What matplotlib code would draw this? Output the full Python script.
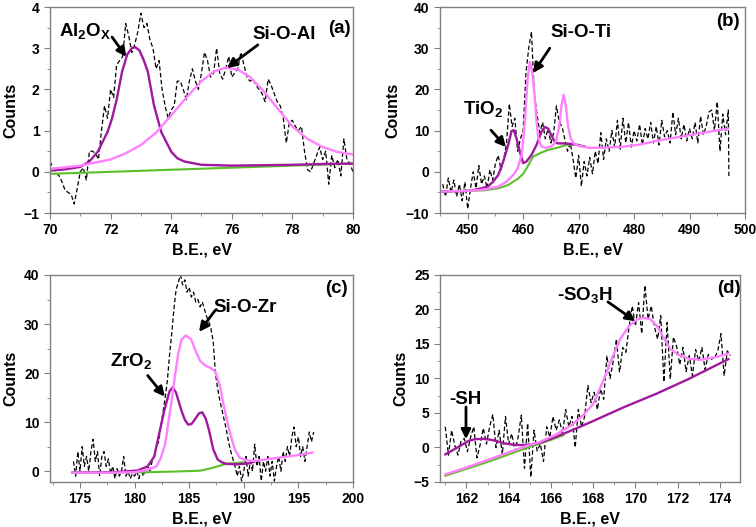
"""XPS fits of the four hybrid silicas: Al 2p, Ti 2p, Zr 3d and S 2p panels.

Raw spectrum drawn dashed, fitted components and baseline drawn on top.
"""

import numpy as np
import matplotlib
matplotlib.use("Agg")
import matplotlib.pyplot as plt
from matplotlib.ticker import MultipleLocator

plt.rcParams["font.family"] = ["Liberation Sans", "DejaVu Sans"]
plt.rcParams["font.weight"] = "bold"
plt.rcParams["mathtext.fontset"] = "custom"
plt.rcParams["mathtext.bf"] = "Liberation Sans:bold"
plt.rcParams["mathtext.rm"] = "Liberation Sans:bold"

PURPLE = "#a0189e"
PINK = "#ff80ff"
GREEN = "#5cbf2a"
FRAME = "#808080"

# ---- (a) Al 2p --------------------------------------------------------------
raw_a_x0, raw_a_step = 70.0, 0.1
raw_a = [0.25, 0.1, 0.0, -0.1, -0.25, -0.45, -0.5, -0.55, -0.78, -0.4,
         0.0, 0.1, -0.2, 0.5, 0.5, 0.45, 0.3, 1.0, 1.6, 1.3,
         2.0, 1.8, 2.6, 2.7, 2.8, 3.6, 3.3, 2.9, 3.1, 3.4,
         3.85, 3.5, 3.6, 3.2, 3.0, 2.5, 2.7, 2.0, 1.6, 1.3,
         1.5, 1.6, 2.2, 2.2, 2.0, 1.75, 2.2, 2.5, 2.2, 2.0,
         2.4, 2.9, 2.7, 2.3, 2.4, 3.0, 2.4, 2.25, 2.5, 2.8,
         2.3, 2.4, 2.5, 2.9, 2.6, 2.3, 2.2, 2.25, 2.1, 2.0,
         1.9, 1.7, 2.25, 2.1, 1.9, 1.7, 1.6, 1.3, 0.7, 1.2,
         1.25, 1.1, 1.0, 1.1, 0.5, 0.05, 0.0, 0.2, 0.4, 0.6,
         0.3, 0.5, -0.3, 0.4, 0.1, 0.3, -0.1, 0.8, 0.3, 0.2,
         0.0]
al2ox_x = [70.0, 70.5, 71.0, 71.3, 71.58, 71.9, 72.05, 72.2, 72.38, 72.55,
           72.7, 72.8, 72.95, 73.1, 73.23, 73.43, 73.67, 74.0, 74.2, 74.44,
           75.0, 76.0, 77.0, 78.0, 79.0, 80.0]
al2ox_y = [0.03, 0.06, 0.12, 0.25, 0.49, 0.97, 1.3, 1.75, 2.43, 2.85,
           3.0, 3.03, 2.95, 2.7, 2.43, 1.62, 0.97, 0.49, 0.33, 0.25,
           0.17, 0.15, 0.16, 0.17, 0.19, 0.2]
sioal_x = [70, 71, 72, 72.5, 73, 73.5, 74, 74.5, 75, 75.4,
           75.8, 76.2, 76.6, 77, 77.5, 78, 78.5, 79, 79.5, 80]
sioal_y = [0.07, 0.15, 0.3, 0.45, 0.65, 0.95, 1.37, 1.8, 2.2, 2.43,
           2.53, 2.48, 2.3, 2.0, 1.55, 1.1, 0.8, 0.6, 0.48, 0.42]
base_a_x = [70, 80]
base_a_y = [-0.05, 0.2]

# ---- (b) Ti 2p --------------------------------------------------------------
raw_b_x0, raw_b_step = 445.5, 0.5
raw_b = [-3, -6, -1.5, -5, -2, -6, -3, -7, -2.5, -9,
         -4, 0, -4, 1.5, -3, -1, -4, 0.5, -2, 2,
         4, 0.5, 3, 7, 16.5, 11, 13, 5, 8, 10,
         24, 30, 34, 19, 14, 9.5, 12, 8, 10.5, 7,
         9.5, 16, 12, 11, 8, 5, 7, 3, -1.5, 4,
         -3.5, 2.5, -1, 3.5, -0.5, 5, 2, 9.5, 3, 8,
         5, 10, 6, 12.5, 5.5, 13, 7, 12, 6, 10,
         7.5, 11.5, 6.5, 10.5, 8, 12, 7, 11, 6.5, 12.5,
         8.5, 10, 7, 14.5, 9, 13, 8, 11.5, 7.5, 10.5,
         8, 12, 7, 13.5, 9, 11, 14.5, 15, 10, 17,
         5, 14, 9, 15, -1]
sioti_x = [445, 450.6, 453, 455.5, 457, 458.2, 459.0, 459.7, 460.0, 460.4,
           460.8, 461.2, 461.6, 462.0, 462.4, 462.7, 463.2, 464.0, 464.8, 465.5,
           466.0, 466.5, 466.9, 467.3, 467.7, 468.1, 468.6, 469.2, 470.0, 472,
           475, 478, 481, 484, 487, 490, 493, 497]
sioti_y = [-4.8, -4.6, -4.3, -3.6, -2.4, -0.8, 0.8, 4.0, 7.5, 14.0,
           22.5, 26.7, 24.5, 19.5, 12.5, 8.5, 6.3, 5.8, 6.0, 6.6,
           7.8, 11.0, 16.0, 18.7, 16.0, 11.0, 8.0, 6.8, 6.3, 5.8,
           5.9, 6.1, 6.6, 7.5, 8.2, 8.9, 9.6, 10.5]
tio2_x = [445, 450.6, 453.6, 454.5, 455.5, 456.4, 457.3, 457.9, 458.3, 458.8,
          459.4, 460.0, 460.6, 461.5, 462.4, 463.3, 463.9, 464.5, 465.1, 465.6,
          466.2, 467.2, 468.4, 469.9, 471.1]
tio2_y = [-4.8, -4.6, -3.6, -2.5, -0.8, 2.5, 6.5, 9.9, 10.1, 8.1,
          4.9, 2.1, 2.5, 4.1, 6.5, 9.7, 10.9, 10.5, 8.8, 7.5,
          6.9, 6.9, 6.8, 6.5, 6.1]
base_b_x = [445, 453, 455.5, 457.3, 459.1, 460.0, 460.6, 461.2, 461.8, 462.7,
            463.5, 464.5, 466.3, 467.8, 469.3, 471.1]
base_b_y = [-4.8, -4.5, -4.0, -3.2, -1.6, -0.5, 0.8, 2.3, 3.7, 4.3,
            4.8, 5.3, 5.9, 6.5, 6.7, 6.1]

# ---- (c) Zr 3d --------------------------------------------------------------
raw_c_x0, raw_c_step = 174.4, 0.2
raw_c = [2, -1, 4, 0, 5, 1, 3, 0, 4, 6.5,
         2, 4, -1, 3, 4, 1, 2.5, -0.5, 1, -1.5,
         0.5, -1, 0, 3, -1, 0, -1.5, -0.5, -1, 0,
         -1.5, 0.5, -1, 0.5, 1, 0, 2, 3, 5, 6,
         9, 12, 15, 18.5, 23.7, 28, 33, 37, 38.5, 40,
         38, 39, 36.5, 37.5, 35.5, 36.5, 34.5, 35, 33.5, 34.5,
         33, 31.5, 30.5, 29, 26.4, 20, 16.9, 14.5, 12.5, 10.5,
         8.5, 6, 4.1, 2.5, 1, -1, 1, -2, 0, 3,
         -1, 2, 0, 5.5, 1, 3, -2, 2, 0, 3,
         -1, 2, -2, 1, 3, 0, 4, 2, 5, 3,
         7, 9, 5, 7, 3, 5, 2, 5, 8, 6,
         8]
siozr_x = [174.3, 178, 180, 181.0, 181.6, 182.0, 182.4, 182.8, 183.1, 183.4,
           183.7, 184.0, 184.3, 184.7, 185.2, 185.6, 186.0, 186.5, 187.0, 187.4,
           187.8, 188.2, 188.5, 188.8, 189.2, 189.6, 190.2, 191, 192, 193,
           194, 195, 196.3]
siozr_y = [-0.3, -0.3, -0.2, 0.2, 0.6, 1.0, 2.7, 5.5, 10.0, 14.5,
           19.5, 24.0, 26.8, 27.7, 26.8, 24.5, 22.5, 21.5, 21.0, 20.3,
           17.5, 13.0, 10.0, 7.3, 4.3, 2.8, 2.2, 2.1, 2.4, 2.7,
           3.0, 3.3, 3.8]
zro2_x = [174.3, 178.2, 180.3, 181.2, 181.8, 182.1, 182.7, 183.2, 183.5, 183.8,
          184.0, 184.3, 184.6, 184.9, 185.2, 185.6, 185.9, 186.2, 186.5, 186.8,
          187.2, 187.6, 188.0, 188.4, 189.3, 190.5, 191.0]
zro2_y = [-0.3, -0.2, 0.15, 1.0, 3.0, 6.1, 12.2, 16.3, 17.1, 16.0,
          14.5, 12.3, 10.5, 9.5, 9.6, 10.8, 11.8, 12.0, 10.8, 8.5,
          4.5, 2.4, 1.8, 1.5, 1.4, 1.6, 2.0]
base_c_x = [174.3, 181.2, 184, 186, 187, 188.4, 190]
base_c_y = [-0.3, -0.2, -0.05, 0.1, 0.6, 1.5, 1.8]

# ---- (d) S 2p ---------------------------------------------------------------
raw_d_x0, raw_d_step = 161.0, 0.15
raw_d = [3.0, -1.1, 2.5, 0.3, -1.1, 1.0, 1.3, -0.6, 1.5, 3.0,
         -1.5, 0.4, 2.8, 0.5, 3.0, 4.8, 0.0, 2.5, -1.0, 4.5,
         0.5, 2.0, -0.5, 1.5, 4.7, -3.0, 3.5, -4.3, 2.5, -0.5,
         0.5, -2.0, 3.0, 1.5, 4.5, 2.5, 4.0, 2.0, 5.5, 3.0,
         4.5, 0.0, 5.5, 3.0, 4.5, 9.0, 6.5, 8.0, 5.5, 8.5,
         7.0, 13.3, 10.0, 12.5, 15.7, 10.9, 14.5, 13.8, 17.5, 20.5,
         17.6, 21.0, 16.5, 23.5, 18.6, 20.5, 17.5, 15.7, 19.1, 9.5,
         18.1, 9.9, 16.0, 14.7, 12.0, 14.5, 11.0, 13.3, 10.4, 14.2,
         12.5, 14.5, 11.3, 13.5, 12.8, 13.0, 14.0, 16.5, 10.4, 14.0,
         13.3]
so3h_x = [161.0, 162.0, 163.0, 164.0, 165.0, 165.4, 166.2, 167.0, 167.5, 168.0,
          168.5, 168.9, 169.3, 169.7, 170.1, 170.4, 170.7, 171.0, 171.3, 171.65,
          172.0, 172.5, 173.05, 173.8, 174.4]
so3h_y = [-3.9, -2.9, -1.8, -0.7, 0.4, 0.7, 1.8, 3.3, 4.6, 6.3,
          9.8, 13.0, 15.8, 17.6, 18.6, 18.8, 18.6, 17.7, 16.1, 14.3,
          13.5, 12.9, 12.7, 13.1, 13.6]
sh_x = [161.0, 161.4, 161.77, 162.1, 162.4, 162.8, 163.2, 163.8, 164.2, 164.6,
        165.0, 165.4, 166.2, 167.0, 167.9, 169.5, 171.0, 172.5, 174.4]
sh_y = [-1.0, -0.3, 0.35, 0.95, 1.2, 1.25, 1.1, 0.6, 0.4, 0.35,
        0.45, 0.6, 1.5, 2.5, 3.7, 5.9, 7.8, 9.9, 12.8]
base_d_x = [161.0, 162, 163, 164, 165, 166, 166.6]
base_d_y = [-4.1, -3.1, -2.1, -1.0, 0.1, 1.1, 1.8]


def raw_x(x0, step, vals):
    return x0 + step * np.arange(len(vals))


def style_axes(ax, xlim, ylim, xmaj, xmin, ymaj, ymin):
    ax.set_xlim(*xlim)
    ax.set_ylim(*ylim)
    ax.xaxis.set_major_locator(MultipleLocator(xmaj))
    ax.xaxis.set_minor_locator(MultipleLocator(xmin))
    ax.yaxis.set_major_locator(MultipleLocator(ymaj))
    ax.yaxis.set_minor_locator(MultipleLocator(ymin))
    for sp in ax.spines.values():
        sp.set_color(FRAME)
        sp.set_linewidth(1.0)
    ax.tick_params(which="both", direction="out", color=FRAME, labelsize=10,
                   top=False, right=False)
    ax.tick_params(which="major", length=4)
    ax.tick_params(which="minor", length=2.5)
    for lab in ax.get_xticklabels() + ax.get_yticklabels():
        lab.set_fontweight("bold")
    ax.set_xlabel("B.E., eV", fontsize=11.5, fontweight="bold", labelpad=4)
    ax.set_ylabel("Counts", fontsize=11.5, fontweight="bold", labelpad=4)


def draw(ax, rx, ry, base, purple, pink):
    ax.plot(rx, ry, color="black", lw=0.9, ls=(0, (3.5, 2)))
    ax.plot(*base, color=GREEN, lw=1.5)
    ax.plot(*purple, color=PURPLE, lw=1.7)
    ax.plot(*pink, color=PINK, lw=1.7)


def label(ax, text, xy, xytext, tx, ty, size=13.5):
    ax.annotate("", xy=xy, xytext=xytext,
                arrowprops=dict(arrowstyle="-|>", color="black", lw=2.0,
                                mutation_scale=14, shrinkA=0, shrinkB=0))
    ax.text(tx, ty, text, fontsize=size, fontweight="bold",
            ha="center", va="center")


def tag(ax, text, tx, ty):
    ax.text(tx, ty, text, fontsize=13.5, fontweight="bold",
            ha="center", va="center")


fig = plt.figure(figsize=(7.56, 5.27), dpi=100)
ax_a = fig.add_axes([0.0661, 0.5958, 0.4008, 0.3909])
ax_b = fig.add_axes([0.582, 0.5958, 0.4034, 0.3909])
ax_c = fig.add_axes([0.0661, 0.0854, 0.4008, 0.3928])
ax_d = fig.add_axes([0.582, 0.0854, 0.3968, 0.3928])

# (a)
draw(ax_a, raw_x(raw_a_x0, raw_a_step, raw_a), raw_a,
     (base_a_x, base_a_y), (al2ox_x, al2ox_y), (sioal_x, sioal_y))
style_axes(ax_a, (70, 80), (-1, 4), 2, 1, 1, 0.5)
label(ax_a, r"Al$_\mathbf{2}$O$_\mathbf{X}$", (72.52, 2.79), (72.05, 3.27), 71.15, 3.4)
label(ax_a, "Si-O-Al", (75.84, 2.52), (76.86, 3.08), 77.72, 3.34)
tag(ax_a, "(a)", 79.55, 3.48)

# (b)
draw(ax_b, np.append(raw_x(raw_b_x0, raw_b_step, raw_b[:-1]), 497.1), raw_b,
     (base_b_x, base_b_y), (tio2_x, tio2_y), (sioti_x, sioti_y))
style_axes(ax_b, (445, 500), (-10, 40), 10, 5, 10, 5)
label(ax_b, r"TiO$_\mathbf{2}$", (456.9, 6.0), (454.2, 10.1), 452.7, 15.0)
label(ax_b, "Si-O-Ti", (461.8, 24.0), (464.8, 30.0), 470.4, 33.9)
tag(ax_b, "(b)", 497.0, 36.6)

# (c)
draw(ax_c, raw_x(raw_c_x0, raw_c_step, raw_c), raw_c,
     (base_c_x, base_c_y), (zro2_x, zro2_y), (siozr_x, siozr_y))
style_axes(ax_c, (172.25, 200), (-2.2, 40), 5, 2.5, 10, 5)
label(ax_c, r"ZrO$_\mathbf{2}$", (182.77, 15.2), (181.2, 19.5), 179.66, 22.3)
label(ax_c, "Si-O-Zr", (185.9, 28.4), (187.35, 32.7), 190.1, 33.3)
tag(ax_c, "(c)", 198.5, 37.2)

# (d)
draw(ax_d, raw_x(raw_d_x0, raw_d_step, raw_d), raw_d,
     (base_d_x, base_d_y), (sh_x, sh_y), (so3h_x, so3h_y))
style_axes(ax_d, (160.75, 174.95), (-5, 25), 2, 1, 5, 2.5)
label(ax_d, "-SH", (161.98, 1.2), (161.98, 5.87), 161.96, 7.0)
label(ax_d, r"-SO$_\mathbf{3}$H", (170.0, 18.3), (168.7, 21.1), 167.6, 22.0)
tag(ax_d, "(d)", 174.45, 23.0)

fig.savefig("out.png", dpi=100)
